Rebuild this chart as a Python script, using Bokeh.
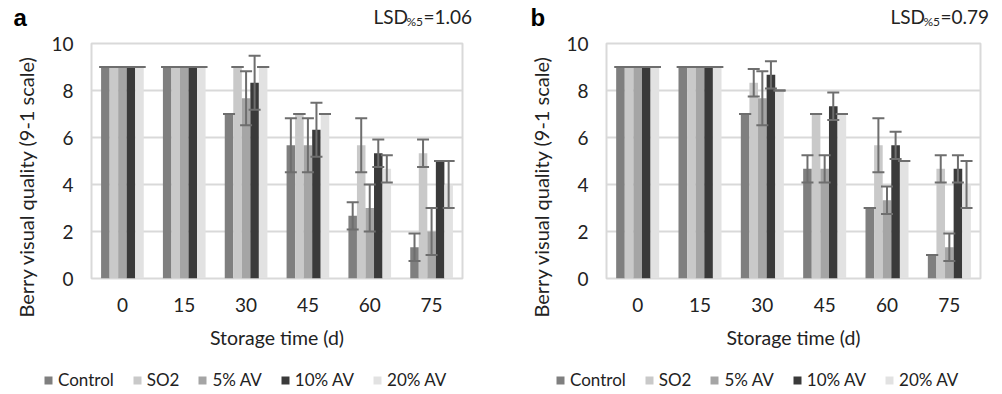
from bokeh.embed import file_html
from bokeh.layouts import column, row
from bokeh.models import (ColumnDataSource, FactorRange, Label, Legend,
                          LegendItem, Range1d, TeeHead, Title, Whisker)
from bokeh.plotting import figure
from bokeh.resources import INLINE
from bokeh.transform import dodge

# Storage days and treatments
days = ["0", "15", "30", "45", "60", "75"]
treatments = ["Control", "SO2", "5% AV", "10% AV", "20% AV"]
bar_colors = ["#7f7f7f", "#c9c9c9", "#a5a5a5", "#3a3a3a", "#e2e2e2"]

# Panel a: mean visual quality and standard deviation
a_control = [9, 9, 7, 5.67, 2.67, 1.33]
a_control_sd = [0, 0, 0, 1.15, 0.58, 0.58]
a_so2 = [9, 9, 9, 7, 5.67, 5.33]
a_so2_sd = [0, 0, 0, 0, 1.15, 0.58]
a_av5 = [9, 9, 7.67, 5.67, 3, 2]
a_av5_sd = [0, 0, 1.15, 1.15, 1, 1]
a_av10 = [9, 9, 8.33, 6.33, 5.33, 5]
a_av10_sd = [0, 0, 1.15, 1.15, 0.58, 0]
a_av20 = [9, 9, 9, 7, 4.67, 4]
a_av20_sd = [0, 0, 0, 0, 0.58, 1]

# Panel b: mean visual quality and standard deviation
b_control = [9, 9, 7, 4.67, 3, 1]
b_control_sd = [0, 0, 0, 0.58, 0, 0]
b_so2 = [9, 9, 8.33, 7, 5.67, 4.67]
b_so2_sd = [0, 0, 0.58, 0, 1.15, 0.58]
b_av5 = [9, 9, 7.67, 4.67, 3.33, 1.33]
b_av5_sd = [0, 0, 1.15, 0.58, 0.58, 0.58]
b_av10 = [9, 9, 8.67, 7.33, 5.67, 4.67]
b_av10_sd = [0, 0, 0.58, 0.58, 0.58, 0.58]
b_av20 = [9, 9, 8, 7, 5, 4]
b_av20_sd = [0, 0, 0, 0, 0, 1]

y_ticks = [0, 2, 4, 6, 8, 10]

FONT = "Lato"
TEXT = "#222222"
ERR = "#6e6e6e"
BAR_W = 0.138
OFFSETS = [-2 * BAR_W, -BAR_W, 0, BAR_W, 2 * BAR_W]

HEAD_H = 30               # strip above the chart: panel letter and LSD
FOOT_H = 32               # strip below the chart: legend
MAIN_H = 394 - HEAD_H - FOOT_H


def strip(width, height, **kw):
    s = figure(width=width, height=height, x_axis_type=None,
               y_axis_type=None, output_backend="svg",
               toolbar_location=None, min_border=0, frame_align=False, **kw)
    s.outline_line_color = None
    s.background_fill_color = "white"
    s.border_fill_color = "white"
    s.grid.visible = False
    return s


def make_header(width, letter, lsd, letter_x, lsd_x):
    h = strip(width, HEAD_H, x_range=Range1d(0, width),
              y_range=Range1d(0, HEAD_H))
    common = dict(text_baseline="alphabetic", text_color=TEXT)
    h.add_layout(Label(x=letter_x, y=13, text=letter,
                       text_font="Liberation Sans", text_font_style="bold",
                       text_font_size="24px", text_baseline="alphabetic",
                       text_color="black"))
    h.add_layout(Label(x=lsd_x, y=14, text="LSD", text_font=FONT,
                       text_font_size="19px", **common))
    h.add_layout(Label(x=lsd_x + 33, y=9, text="%5", text_font=FONT,
                       text_font_size="12px", **common))
    h.add_layout(Label(x=lsd_x + 50, y=14, text="=" + lsd, text_font=FONT,
                       text_font_size="19px", **common))
    return h


def make_footer(width, sources, legend_x):
    # same series as the chart, but with a value window that keeps the bars
    # out of sight, so only the legend shows
    f = strip(width, FOOT_H, x_range=FactorRange(*days),
              y_range=Range1d(20, 21))
    items = []
    for name, color, src in zip(treatments, bar_colors, sources):
        r = f.vbar(x="day", top="top", width=BAR_W, source=src,
                   fill_color=color, line_color=None)
        items.append(LegendItem(label=name, renderers=[r]))
    f.add_layout(Legend(items=items, orientation="horizontal",
                        location=(legend_x, 4), glyph_width=10,
                        glyph_height=10, label_standoff=5, spacing=18,
                        padding=0, margin=0, border_line_color=None,
                        background_fill_alpha=0, label_text_font=FONT,
                        label_text_font_size="17px",
                        label_text_color=TEXT))
    return f


def make_chart(means, sds, width, left, right):
    p = figure(x_range=FactorRange(*days), y_range=Range1d(0, 10),
               width=width, height=MAIN_H, output_backend="svg",
               toolbar_location=None, min_border_left=left,
               min_border_right=right, min_border_top=43 - HEAD_H,
               min_border_bottom=MAIN_H - (278 - HEAD_H), frame_align=False)
    p.background_fill_color = "white"
    p.border_fill_color = "white"
    p.outline_line_color = "#d9d9d9"
    p.outline_line_width = 2

    sources = []
    for color, off, m, s in zip(bar_colors, OFFSETS, means, sds):
        src = ColumnDataSource(dict(
            day=days, top=m,
            up=[v + e for v, e in zip(m, s)],
            lo=[v - e for v, e in zip(m, s)],
        ))
        sources.append(src)
        p.vbar(x=dodge("day", off, range=p.x_range), top="top",
               width=BAR_W, source=src, fill_color=color, line_color=None)
        p.add_layout(Whisker(
            source=src, base=dodge("day", off, range=p.x_range),
            upper="up", lower="lo", line_color=ERR, line_width=2,
            upper_head=TeeHead(size=12, line_color=ERR, line_width=2),
            lower_head=TeeHead(size=12, line_color=ERR, line_width=2),
            level="overlay"))

    p.xgrid.visible = False
    p.ygrid.grid_line_color = "#d9d9d9"
    p.ygrid.grid_line_width = 2
    p.yaxis.ticker = y_ticks

    for ax in (p.xaxis[0], p.yaxis[0]):
        ax.axis_line_color = None
        ax.major_tick_line_color = None
        ax.minor_tick_line_color = None
        ax.major_label_text_font = FONT
        ax.major_label_text_font_size = "19px"
        ax.major_label_text_color = TEXT
    p.xaxis.major_label_standoff = 13
    p.yaxis.major_label_standoff = 12

    p.xaxis.axis_label = "Storage time (d)"
    p.xaxis.axis_label_text_font = FONT
    p.xaxis.axis_label_text_font_size = "19.5px"
    p.xaxis.axis_label_text_font_style = "normal"
    p.xaxis.axis_label_text_color = TEXT
    p.xaxis.axis_label_standoff = 11

    p.add_layout(Title(text="Berry visual quality (9-1 scale)",
                       align="left", offset=-39, standoff=22,
                       text_font=FONT, text_font_size="20px",
                       text_font_style="normal", text_color=TEXT), "left")
    return p, sources


def make_panel(letter, lsd, means, sds, width, left, right,
               letter_x, lsd_x, legend_x):
    chart, sources = make_chart(means, sds, width, left, right)
    return column(make_header(width, letter, lsd, letter_x, lsd_x),
                  chart,
                  make_footer(width, sources, legend_x))


panel_a = make_panel("a", "1.06",
                     [a_control, a_so2, a_av5, a_av10, a_av20],
                     [a_control_sd, a_so2_sd, a_av5_sd, a_av10_sd, a_av20_sd],
                     500, 88, 38, 13, 373, 43)
panel_b = make_panel("b", "0.79",
                     [b_control, b_so2, b_av5, b_av10, b_av20],
                     [b_control_sd, b_so2_sd, b_av5_sd, b_av10_sd, b_av20_sd],
                     502, 106, 22, 30, 390, 55)

layout = row(panel_a, panel_b)
open("out.html", "w").write(file_html(layout, INLINE))
